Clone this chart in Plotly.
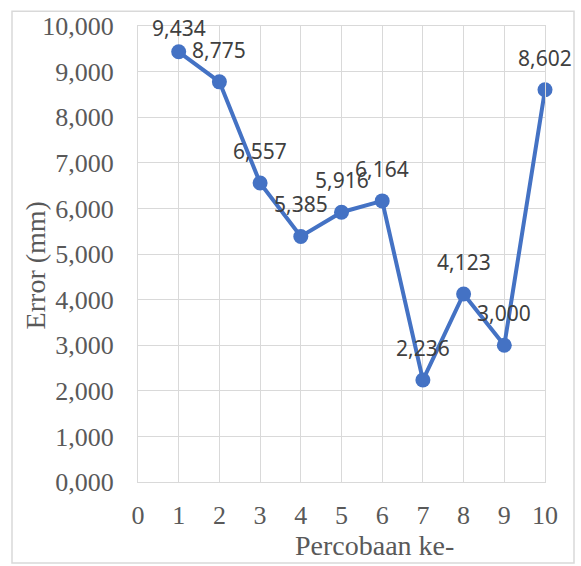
import plotly.graph_objects as go

trial = [1, 2, 3, 4, 5, 6, 7, 8, 9, 10]
error_mm = [9.434, 8.775, 6.557, 5.385, 5.916, 6.164, 2.236, 4.123, 3.000, 8.602]
x_title = "Percobaan ke-"
y_title = "Error (mm)"

W, H = 581, 566
L, R, T, B = 138, 545, 21, 482
YMAX = 10

grid = "#d9d9d9"
serif = "Liberation Serif, Times New Roman, serif"
sans = "Noto Sans, Open Sans, sans-serif"

fig = go.Figure()
fig.add_trace(go.Scatter(
    x=trial, y=error_mm,
    mode="lines+markers",
    line=dict(color="#4472C4", width=4),
    marker=dict(color="#4472C4", size=15),
    cliponaxis=False,
    hoverinfo="skip",
))

# data labels: ~32 px above each point, kept inside the chart area
annotations = []
for xv, yv in zip(trial, error_mm):
    py = T + (YMAX - yv) * (B - T) / YMAX
    shift = min(32, py - 23)
    annotations.append(dict(
        x=xv, y=yv, xref="x", yref="y", text=f"{yv:.3f}".replace(".", ","),
        showarrow=False, yshift=shift, xanchor="center", yanchor="middle",
        font=dict(family=sans, size=21, color="#404040")))

annotations += [
    dict(text=y_title, xref="paper", yref="paper",
         x=(35 - L) / (R - L), y=(B - 263) / (B - T),
         xanchor="center", yanchor="middle", textangle=-90, showarrow=False,
         font=dict(family=serif, size=28, color="#595959")),
    dict(text=x_title, xref="paper", yref="paper",
         x=(374 - L) / (R - L), y=(B - 546) / (B - T),
         xanchor="center", yanchor="middle", showarrow=False,
         font=dict(family=serif, size=28, color="#595959")),
]

fig.update_layout(
    width=W, height=H,
    margin=dict(l=L, r=W - R, t=T, b=H - B, pad=0),
    paper_bgcolor="white", plot_bgcolor="white",
    separators=",.",
    showlegend=False,
    xaxis=dict(range=[0, 10], tickmode="linear", tick0=0, dtick=1,
               showgrid=True, gridcolor=grid, gridwidth=1,
               showline=True, linecolor=grid, linewidth=1, mirror=True,
               zeroline=False,
               ticks="outside", ticklen=10, tickcolor="rgba(0,0,0,0)",
               tickfont=dict(family=serif, size=26, color="#595959")),
    yaxis=dict(range=[0, YMAX], tickmode="linear", tick0=0, dtick=1,
               tickformat=".3f",
               showgrid=True, gridcolor=grid, gridwidth=1,
               showline=True, linecolor=grid, linewidth=1, mirror=True,
               zeroline=False,
               ticks="outside", ticklen=18, tickcolor="rgba(0,0,0,0)",
               tickfont=dict(family=serif, size=26, color="#595959")),
    annotations=annotations,
    shapes=[dict(type="rect", xref="paper", yref="paper",
                 x0=(12 - L) / (R - L), x1=(574 - L) / (R - L),
                 y0=(B - 564) / (B - T), y1=(B - 6) / (B - T),
                 line=dict(color=grid, width=1.5), fillcolor="rgba(0,0,0,0)")],
)

fig.write_html("out.html", config={"displayModeBar": False},
               post_script="document.body.style.margin='0px';")
